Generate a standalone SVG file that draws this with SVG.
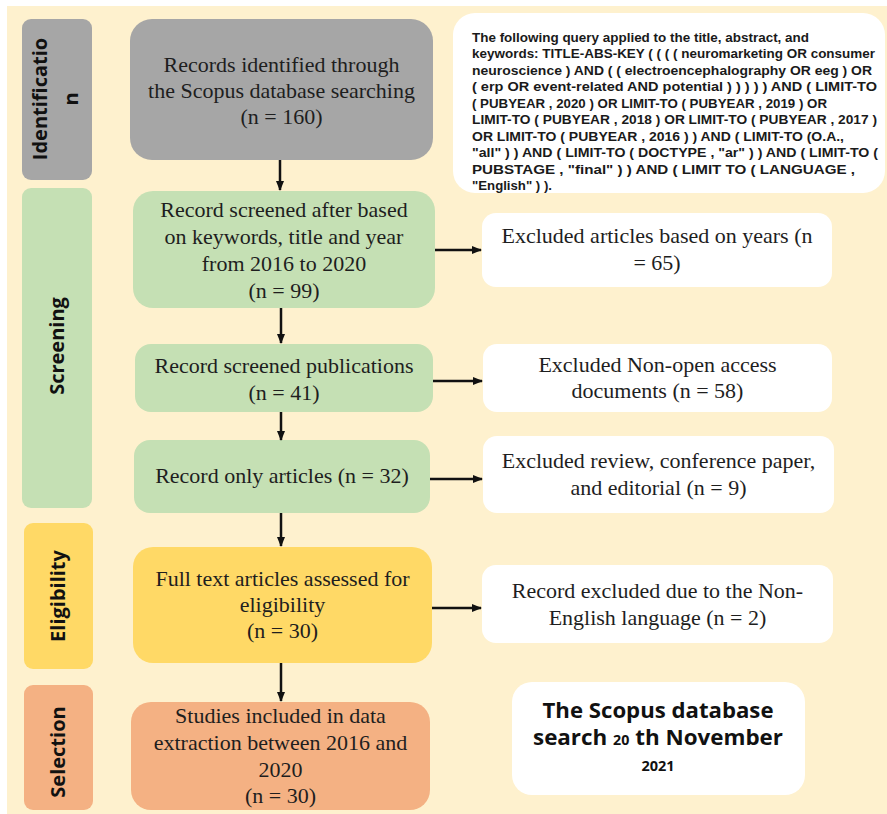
<svg xmlns="http://www.w3.org/2000/svg" width="887" height="814" viewBox="0 0 887 814">
<defs>
<marker id="ah" markerWidth="10" markerHeight="8" refX="9" refY="4" orient="auto" markerUnits="userSpaceOnUse">
<path d="M0,0 L10,4 L0,8 Z" fill="#111"/>
</marker>
</defs>
<style>
.lbl{font-family:"Open Sans","Liberation Sans",sans-serif;font-weight:700;font-size:20px;fill:#111;text-anchor:middle}
.t{font-family:"Liberation Serif","Times New Roman",serif;font-size:22px;fill:#1e1e1e;text-anchor:middle}
.q{font-family:"Liberation Sans",Arial,sans-serif;font-weight:700;font-size:13.5px;fill:#1a1a1a}
.sc{font-family:"Open Sans","Liberation Sans",sans-serif;font-weight:700;fill:#111;text-anchor:middle}
.gray{fill:#A6A6A6}
.green{fill:#C5E0B4}
.yellow{fill:#FFD966}
.salmon{fill:#F4B183}
.white{fill:#FFFFFF}
.conn{stroke:#111;stroke-width:2.5;fill:none;marker-end:url(#ah)}
</style>
<rect x="0" y="0" width="887" height="814" fill="#FFFFFF"/>
<rect x="7" y="6" width="880" height="808" fill="#FEF1CE"/>

<g id="label-identification">
<rect class="gray" x="22" y="19" width="70" height="161" rx="9"/>
<text class="lbl" transform="translate(47,99) rotate(-90)">Identificatio</text>
<text class="lbl" transform="translate(78,99) rotate(-90)">n</text>
</g>
<g id="label-screening">
<rect class="green" x="22" y="188" width="70" height="320" rx="9"/>
<text class="lbl" transform="translate(64,346) rotate(-90)">Screening</text>
</g>
<g id="label-eligibility">
<rect class="yellow" x="24" y="523" width="69" height="146" rx="9"/>
<text class="lbl" transform="translate(65,596) rotate(-90)">Eligibility</text>
</g>
<g id="label-selection">
<rect class="salmon" x="24" y="685" width="69" height="125" rx="9"/>
<text class="lbl" transform="translate(65,752) rotate(-90)">Selection</text>
</g>

<g id="n-identified">
<rect class="gray" x="130" y="19" width="303" height="141" rx="22"/>
<text class="t" x="281.5" y="72">Records identified through</text>
<text class="t" x="281.5" y="98">the Scopus database searching</text>
<text class="t" x="281.5" y="124">(n = 160)</text>
</g>
<g id="n-screened-after">
<rect class="green" x="133" y="191" width="302" height="117" rx="20"/>
<text class="t" x="284" y="217">Record screened after based</text>
<text class="t" x="284" y="244">on keywords, title and year</text>
<text class="t" x="284" y="271">from 2016 to 2020</text>
<text class="t" x="284" y="298">(n = 99)</text>
</g>
<g id="n-publications">
<rect class="green" x="135" y="344" width="298" height="68" rx="16"/>
<text class="t" x="284" y="373">Record screened publications</text>
<text class="t" x="284" y="400">(n = 41)</text>
</g>
<g id="n-articles">
<rect class="green" x="134" y="440" width="296" height="73" rx="16"/>
<text class="t" x="282" y="483">Record only articles (n = 32)</text>
</g>
<g id="n-fulltext">
<rect class="yellow" x="133" y="547" width="299" height="116" rx="20"/>
<text class="t" x="282.5" y="586">Full text articles assessed for</text>
<text class="t" x="282.5" y="612">eligibility</text>
<text class="t" x="282.5" y="638">(n = 30)</text>
</g>
<g id="n-included">
<rect class="salmon" x="131" y="702" width="299" height="108" rx="20"/>
<text class="t" x="280.5" y="723">Studies included in data</text>
<text class="t" x="280.5" y="750">extraction between 2016 and</text>
<text class="t" x="280.5" y="777">2020</text>
<text class="t" x="280.5" y="803">(n = 30)</text>
</g>

<g id="n-query">
<rect class="white" x="453" y="13" width="432" height="180" rx="22"/>
<text class="q" x="472" y="41.5" textLength="337" lengthAdjust="spacingAndGlyphs">The following query applied to the title, abstract, and</text>
<text class="q" x="472" y="58" textLength="403" lengthAdjust="spacingAndGlyphs">keywords: TITLE-ABS-KEY ( ( ( ( neuromarketing OR consumer</text>
<text class="q" x="472" y="74.5" textLength="400" lengthAdjust="spacingAndGlyphs">neuroscience ) AND ( ( electroencephalography OR eeg ) OR</text>
<text class="q" x="472" y="91" textLength="405" lengthAdjust="spacingAndGlyphs">( erp OR event-related AND potential ) ) ) ) ) AND ( LIMIT-TO</text>
<text class="q" x="472" y="107.5" textLength="355" lengthAdjust="spacingAndGlyphs">( PUBYEAR , 2020 ) OR LIMIT-TO ( PUBYEAR , 2019 ) OR</text>
<text class="q" x="472" y="124" textLength="405" lengthAdjust="spacingAndGlyphs">LIMIT-TO ( PUBYEAR , 2018 ) OR LIMIT-TO ( PUBYEAR , 2017 )</text>
<text class="q" x="472" y="140.5" textLength="372" lengthAdjust="spacingAndGlyphs">OR LIMIT-TO ( PUBYEAR , 2016 ) ) AND ( LIMIT-TO (O.A.,</text>
<text class="q" x="472" y="157" textLength="406" lengthAdjust="spacingAndGlyphs">"all" ) ) AND ( LIMIT-TO ( DOCTYPE , "ar" ) ) AND ( LIMIT-TO (</text>
<text class="q" x="472" y="173.5" textLength="383" lengthAdjust="spacingAndGlyphs">PUBSTAGE , "final" ) ) AND ( LIMIT TO ( LANGUAGE ,</text>
<text class="q" x="472" y="190" textLength="80" lengthAdjust="spacingAndGlyphs">"English" ) ).</text>
</g>
<g id="n-excl-years">
<rect class="white" x="482" y="213" width="350" height="74" rx="14"/>
<text class="t" x="657" y="243">Excluded articles based on years (n</text>
<text class="t" x="657" y="270">= 65)</text>
</g>
<g id="n-excl-open">
<rect class="white" x="483" y="344" width="349" height="68" rx="14"/>
<text class="t" x="657.5" y="372">Excluded Non-open access</text>
<text class="t" x="657.5" y="398">documents (n = 58)</text>
</g>
<g id="n-excl-review">
<rect class="white" x="483" y="436" width="351" height="77" rx="14"/>
<text class="t" x="658.5" y="468">Excluded review, conference paper,</text>
<text class="t" x="658.5" y="495">and editorial (n = 9)</text>
</g>
<g id="n-excl-lang">
<rect class="white" x="482" y="565" width="351" height="78" rx="14"/>
<text class="t" x="657.5" y="598">Record excluded due to the Non-</text>
<text class="t" x="657.5" y="625">English language (n = 2)</text>
</g>
<g id="n-scopus-date">
<rect class="white" x="512" y="682" width="293" height="113" rx="20"/>
<text class="sc" x="658" y="718" font-size="22" textLength="231" lengthAdjust="spacingAndGlyphs">The Scopus database</text>
<text class="sc" x="658" y="745" font-size="22" textLength="250" lengthAdjust="spacingAndGlyphs">search <tspan font-size="14">20</tspan> th November</text>
<text class="sc" x="658" y="771" font-size="14.5">2021</text>
</g>

<g id="connectors">
<line class="conn" x1="280" y1="160" x2="280" y2="190"/>
<line class="conn" x1="281" y1="308" x2="281" y2="343"/>
<line class="conn" x1="281" y1="412" x2="281" y2="440"/>
<line class="conn" x1="281" y1="513" x2="281" y2="546"/>
<line class="conn" x1="281" y1="663" x2="281" y2="701"/>
<line class="conn" x1="435" y1="250" x2="481" y2="250"/>
<line class="conn" x1="433" y1="381" x2="482" y2="381"/>
<line class="conn" x1="430" y1="479" x2="482" y2="479"/>
<line class="conn" x1="432" y1="608" x2="481" y2="608"/>
</g>
</svg>
